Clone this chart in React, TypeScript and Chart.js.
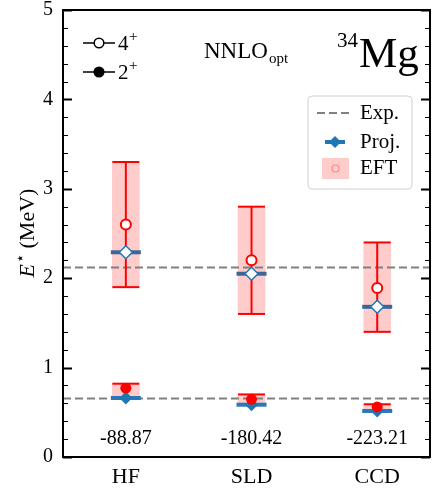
import React, { useEffect, useRef } from "react";
import { Chart, registerables } from "chart.js";

Chart.register(...registerables);

// ---------- data ----------
const categories = ["HF", "SLD", "CCD"];
const xPos = [0, 1, 2];
const groundEnergies = ["-88.87", "-180.42", "-223.21"];
const eft4Center = [2.6, 2.2, 1.89];
const eft4Low = [1.9, 1.6, 1.4];
const eft4High = [3.3, 2.8, 2.4];
const proj4 = [2.29, 2.05, 1.68];
const eft2Center = [0.77, 0.645, 0.56];
const eft2Low = [0.67, 0.59, 0.52];
const eft2High = [0.82, 0.7, 0.59];
const proj2 = [0.66, 0.585, 0.515];
const exp4 = 2.12;
const exp2 = 0.655;
const energyLabelY = 0.2;
const yMin = 0;
const yMax = 5;
const xMin = -0.5;
const xMax = 2.42;

const SERIF = "'Liberation Serif', 'Times New Roman', serif";
const RED = "#ff0000";
const BAND = "rgba(255,0,0,0.2)";
const BLUE = "#1f77b4";
const BAR4 = "#3b6797";
const BAR2 = "#2a78b8";
const GRAY = "#808080";

const pts = (vals: number[]) => xPos.map((x, i) => ({ x, y: vals[i] }));

const decorPlugin = {
  id: "decor",
  afterDatasetsDraw(chart: any) {
    const ctx = chart.ctx as CanvasRenderingContext2D;
    const { left, right, top, bottom } = chart.chartArea;
    const xs = chart.scales.x;
    const ys = chart.scales.y;
    ctx.save();

    // ground-state energies
    ctx.fillStyle = "#000";
    ctx.font = `20px ${SERIF}`;
    ctx.textAlign = "center";
    ctx.textBaseline = "middle";
    xPos.forEach((x, i) => {
      ctx.fillText(groundEnergies[i], xs.getPixelForValue(x), ys.getPixelForValue(energyLabelY));
    });

    // frame
    ctx.strokeStyle = "#000";
    ctx.lineWidth = 2;
    ctx.strokeRect(left, top, right - left, bottom - top);

    // y ticks (inward, both sides)
    for (let k = 0; k <= 25; k++) {
      const v = yMin + k * 0.2;
      const py = Math.round(ys.getPixelForValue(v)) + 0.5;
      const major = k % 5 === 0;
      const len = major ? 9 : 5;
      ctx.lineWidth = major ? 2 : 1;
      ctx.beginPath();
      ctx.moveTo(left, py);
      ctx.lineTo(left + len, py);
      ctx.moveTo(right, py);
      ctx.lineTo(right - len, py);
      ctx.stroke();
    }

    // y title
    ctx.save();
    ctx.translate(27, 233);
    ctx.rotate(-Math.PI / 2);
    ctx.textBaseline = "alphabetic";
    ctx.textAlign = "left";
    const f1 = `italic 22px ${SERIF}`;
    const f2 = `15px ${SERIF}`;
    const f3 = `22px ${SERIF}`;
    ctx.font = f1;
    const wE = ctx.measureText("E").width;
    ctx.font = f2;
    const wS = ctx.measureText("\u22C6").width;
    ctx.font = f3;
    const wM = ctx.measureText(" (MeV)").width;
    const total = wE + wS + 1 + wM;
    let cx = -total / 2;
    const base = 7;
    ctx.font = f1;
    ctx.fillText("E", cx, base);
    cx += wE + 1;
    ctx.font = f2;
    ctx.fillText("\u22C6", cx, base - 9);
    cx += wS;
    ctx.font = f3;
    ctx.fillText(" (MeV)", cx, base);
    ctx.restore();

    // top-left legend
    const legendRows = [
      { y: 43, label: "4", filled: false },
      { y: 72, label: "2", filled: true },
    ];
    legendRows.forEach((r) => {
      ctx.strokeStyle = "#000";
      ctx.lineWidth = 1.5;
      ctx.beginPath();
      ctx.moveTo(83, r.y);
      ctx.lineTo(115, r.y);
      ctx.stroke();
      ctx.beginPath();
      ctx.arc(99, r.y, 4.8, 0, Math.PI * 2);
      ctx.fillStyle = r.filled ? "#000" : "#fff";
      ctx.fill();
      ctx.stroke();
      ctx.fillStyle = "#000";
      ctx.textAlign = "left";
      ctx.textBaseline = "alphabetic";
      ctx.font = `21px ${SERIF}`;
      ctx.fillText(r.label, 118, r.y + 7);
      ctx.font = `15px ${SERIF}`;
      ctx.fillText("+", 129, r.y - 2);
    });

    // NNLO_opt
    ctx.fillStyle = "#000";
    ctx.textAlign = "left";
    ctx.textBaseline = "alphabetic";
    ctx.font = `23px ${SERIF}`;
    ctx.fillText("NNLO", 204, 58);
    const wN = ctx.measureText("NNLO").width;
    ctx.font = `15px ${SERIF}`;
    ctx.fillText("opt", 204 + wN + 1, 63);

    // 34Mg
    ctx.font = `43px ${SERIF}`;
    ctx.fillText("Mg", 359, 67);
    ctx.font = `21px ${SERIF}`;
    ctx.textAlign = "right";
    ctx.fillText("34", 358, 47);

    // right legend box
    const bx = 308, by = 96, bw = 104, bh = 93, rr = 4;
    ctx.beginPath();
    ctx.moveTo(bx + rr, by);
    ctx.lineTo(bx + bw - rr, by);
    ctx.quadraticCurveTo(bx + bw, by, bx + bw, by + rr);
    ctx.lineTo(bx + bw, by + bh - rr);
    ctx.quadraticCurveTo(bx + bw, by + bh, bx + bw - rr, by + bh);
    ctx.lineTo(bx + rr, by + bh);
    ctx.quadraticCurveTo(bx, by + bh, bx, by + bh - rr);
    ctx.lineTo(bx, by + rr);
    ctx.quadraticCurveTo(bx, by, bx + rr, by);
    ctx.closePath();
    ctx.fillStyle = "rgba(255,255,255,0.8)";
    ctx.fill();
    ctx.strokeStyle = "#d0d0d0";
    ctx.lineWidth = 1;
    ctx.stroke();

    // Exp.
    ctx.strokeStyle = GRAY;
    ctx.lineWidth = 2;
    ctx.setLineDash([8, 4]);
    ctx.beginPath();
    ctx.moveTo(317, 113);
    ctx.lineTo(353, 113);
    ctx.stroke();
    ctx.setLineDash([]);
    // Proj.
    ctx.strokeStyle = BLUE;
    ctx.lineWidth = 4;
    ctx.beginPath();
    ctx.moveTo(325, 142);
    ctx.lineTo(345, 142);
    ctx.stroke();
    ctx.fillStyle = BLUE;
    ctx.beginPath();
    ctx.moveTo(335, 136);
    ctx.lineTo(341, 142);
    ctx.lineTo(335, 148);
    ctx.lineTo(329, 142);
    ctx.closePath();
    ctx.fill();
    // EFT
    ctx.fillStyle = BAND;
    ctx.fillRect(322, 158, 27, 21);
    ctx.strokeStyle = "rgba(255,0,0,0.35)";
    ctx.lineWidth = 1.2;
    ctx.beginPath();
    ctx.arc(335.5, 168.5, 3.5, 0, Math.PI * 2);
    ctx.stroke();

    ctx.fillStyle = "#000";
    ctx.font = `21px ${SERIF}`;
    ctx.textAlign = "left";
    ctx.textBaseline = "middle";
    ctx.fillText("Exp.", 360, 113);
    ctx.fillText("Proj.", 360, 142);
    ctx.fillText("EFT", 360, 168);

    ctx.restore();
  },
};

export default function App() {
  const ref = useRef<HTMLCanvasElement | null>(null);

  useEffect(() => {
    document.body.style.margin = "0";
    const canvas = ref.current;
    if (!canvas) return;

    const bandData = [
      ...xPos.map((x, i) => ({ x, y: [eft4Low[i], eft4High[i]] })),
      ...xPos.map((x, i) => ({ x, y: [eft2Low[i], eft2High[i]] })),
    ];
    const stemData: any[] = [];
    xPos.forEach((x, i) => {
      stemData.push({ x, y: eft4Low[i] }, { x, y: eft4High[i] }, { x, y: null });
      stemData.push({ x, y: eft2Low[i] }, { x, y: eft2High[i] }, { x, y: null });
    });
    const capData = [...pts(eft4Low), ...pts(eft4High), ...pts(eft2Low), ...pts(eft2High)];

    const pointDs = (data: any[], extra: any) => ({
      type: "scatter",
      data,
      showLine: false,
      pointHoverRadius: 0,
      ...extra,
    });

    const chart = new Chart(canvas, {
      type: "scatter",
      data: {
        datasets: [
          {
            type: "bar",
            data: bandData as any,
            backgroundColor: BAND,
            borderWidth: 0,
            barThickness: 27,
            grouped: false,
            order: 10,
          } as any,
          {
            type: "line",
            data: [{ x: xMin, y: exp4 }, { x: xMax, y: exp4 }, { x: xMax, y: null }, { x: xMin, y: exp2 }, { x: xMax, y: exp2 }],
            borderColor: GRAY,
            borderWidth: 2,
            borderDash: [8, 4],
            pointRadius: 0,
            spanGaps: false,
            order: 9,
          } as any,
          {
            type: "line",
            data: stemData,
            borderColor: RED,
            borderWidth: 2,
            pointRadius: 0,
            spanGaps: false,
            order: 8,
          } as any,
          pointDs(capData, {
            pointStyle: "line",
            pointRadius: 13.5,
            pointBorderWidth: 2,
            pointBorderColor: RED,
            order: 7,
          }),
          pointDs(pts(proj4), {
            pointStyle: "line",
            pointRadius: 15,
            pointBorderWidth: 4,
            pointBorderColor: BAR4,
            order: 6,
          }),
          pointDs(pts(proj2), {
            pointStyle: "line",
            pointRadius: 15,
            pointBorderWidth: 4,
            pointBorderColor: BAR2,
            order: 6,
          }),
          pointDs(pts(proj4), {
            pointStyle: "rectRot",
            pointRadius: 6.5,
            pointBorderWidth: 1.5,
            pointBorderColor: BLUE,
            pointBackgroundColor: "#ffffff",
            order: 5,
          }),
          pointDs(pts(proj2), {
            pointStyle: "rectRot",
            pointRadius: 6.5,
            pointBorderWidth: 0,
            pointBorderColor: BLUE,
            pointBackgroundColor: BLUE,
            order: 5,
          }),
          pointDs(pts(eft4Center), {
            pointStyle: "circle",
            pointRadius: 5,
            pointBorderWidth: 2,
            pointBorderColor: RED,
            pointBackgroundColor: "#ffffff",
            order: 4,
          }),
          pointDs(pts(eft2Center), {
            pointStyle: "circle",
            pointRadius: 5.5,
            pointBorderWidth: 0,
            pointBorderColor: RED,
            pointBackgroundColor: RED,
            order: 4,
          }),
        ] as any,
      },
      options: {
        responsive: false,
        animation: false,
        events: [],
        layout: { autoPadding: false, padding: { left: 0, top: 0, right: 9, bottom: 0 } },
        plugins: { legend: { display: false }, tooltip: { enabled: false } },
        scales: {
          x: {
            type: "linear",
            min: xMin,
            max: xMax,
            offset: false,
            grid: { display: false, drawTicks: false, offset: false },
            border: { display: false },
            afterBuildTicks: (scale: any) => {
              scale.ticks = xPos.map((v) => ({ value: v }));
            },
            afterFit: (scale: any) => {
              scale.height = 36;
              scale.paddingLeft = 0;
              scale.paddingRight = 0;
            },
            ticks: {
              padding: 7,
              color: "#000",
              font: { family: SERIF, size: 22 },
              callback: (v: any) => {
                const i = xPos.indexOf(Number(v));
                return i >= 0 ? categories[i] : "";
              },
            },
          },
          y: {
            type: "linear",
            min: yMin,
            max: yMax,
            grid: { display: false, drawTicks: true, tickLength: 7, tickColor: "rgba(0,0,0,0)" },
            border: { display: false },
            afterFit: (scale: any) => {
              scale.width = 63;
              scale.paddingTop = 10;
              scale.paddingBottom = 0;
            },
            ticks: {
              stepSize: 1,
              padding: 3,
              color: "#000",
              font: { family: SERIF, size: 20 },
            },
          },
        },
      } as any,
      plugins: [decorPlugin],
    });

    return () => chart.destroy();
  }, []);

  return (
    <div style={{ width: 439, height: 493 }}>
      <canvas ref={ref} width={439} height={493} style={{ display: "block" }} />
    </div>
  );
}
